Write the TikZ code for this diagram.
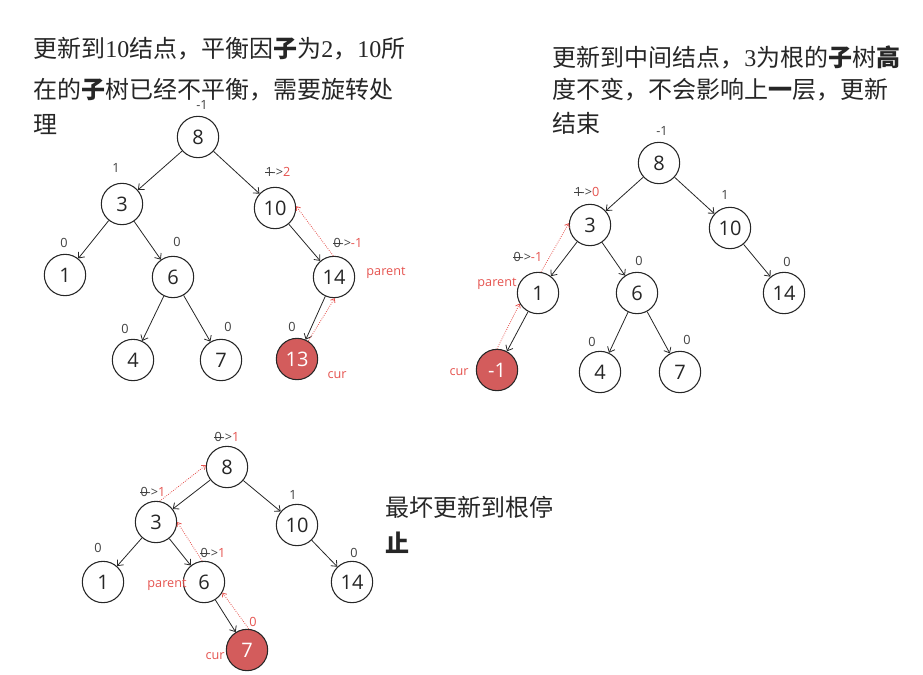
\documentclass[tikz,border=0pt]{standalone}
\usepackage{fontspec}
\setmainfont{Open Sans}
\newfontfamily\cjk{Noto Sans CJK SC}
\newfontfamily\numfont{Liberation Serif}
\usetikzlibrary{arrows.meta}
\definecolor{curRed}{HTML}{D35C5C}
\definecolor{markRed}{HTML}{E5534F}
\newcommand{\strk}[1]{\makebox[0pt][l]{\hspace{-0.05em}\rule[0.32em]{0.65em}{0.4pt}}#1\kern-0.1em}
\newcommand{\nw}[1]{{\color{markRed}#1}}

\begin{document}
\begin{tikzpicture}[x=0.75pt,y=-0.75pt,
    treeNode/.style={circle, draw=black!85, line width=0.8pt, minimum size=31pt, inner sep=0pt, font=\fontsize{15}{15}\selectfont, text=black!85},
    curNode/.style={treeNode, fill=curRed, text=white},
    bfLabel/.style={font=\fontsize{9.5}{10}\selectfont, text=black!75, inner sep=1pt},
    ptrLabel/.style={font=\fontsize{9.5}{10}\selectfont, text=markRed, inner sep=1pt},
    noteLine/.style={anchor=west, inner sep=0pt, font=\fontsize{18}{20}\selectfont\cjk, text=black!85},
    childEdge/.style={-{Straight Barb[length=3.5pt,width=6pt]}, line width=0.6pt, draw=black!85},
    backEdge/.style={-{Straight Barb[length=2.5pt,width=4pt]}, densely dotted, line width=0.6pt, draw=markRed}
]
    \useasboundingbox (0,0) rectangle (923,674);

    % first step: 10 out of balance
    \node[noteLine] (noteA1) at (33,49) {更新到{\numfont 10}结点，平衡因\textbf{子}为{\numfont 2}，{\numfont 10}所};
    \node[noteLine] (noteA2) at (33,90) {在的\textbf{子}树已经不平衡，需要旋转处};
    \node[noteLine] (noteA3) at (33,125) {理};

    \node[treeNode] (a8) at (198,137) {8};
    \node[treeNode] (a3) at (122,204) {3};
    \node[treeNode] (a10) at (275,208) {10};
    \node[treeNode] (a1) at (65,275) {1};
    \node[treeNode] (a6) at (173,277) {6};
    \node[treeNode] (a14) at (334,277) {14};
    \node[treeNode] (a4) at (133,360) {4};
    \node[treeNode] (a7) at (221,360) {7};
    \node[curNode] (a13) at (297,359) {13};

    \draw[childEdge] (a8) -- (a3);
    \draw[childEdge] (a8) -- (a10);
    \draw[childEdge] (a3) -- (a1);
    \draw[childEdge] (a3) -- (a6);
    \draw[childEdge] (a6) -- (a4);
    \draw[childEdge] (a6) -- (a7);
    \draw[childEdge] (a10) -- (a14);
    \draw[childEdge] (a14) -- (a13);
    \draw[backEdge] (a13.58) -- (a14.-88);
    \draw[backEdge] (a14.92) -- (a10.5);

    \node[bfLabel] (a8bf) at (202,105) {-1};
    \node[bfLabel] (a3bf) at (116,168) {1};
    \node[bfLabel] (a10bf) at (278,172) {\strk{1}->\nw{2}};
    \node[bfLabel] (a1bf) at (64,243) {0};
    \node[bfLabel] (a6bf) at (177,242) {0};
    \node[bfLabel] (a14bf) at (348,243) {\strk{0}->\nw{-1}};
    \node[bfLabel] (a4bf) at (125,329) {0};
    \node[bfLabel] (a7bf) at (228,327) {0};
    \node[bfLabel] (a13bf) at (292,327) {0};
    \node[ptrLabel] (aParent) at (386,273) {parent};
    \node[ptrLabel] (aCur) at (337,375) {cur};

    % second step: stops at 3
    \node[noteLine] (noteB1) at (552,57) {更新到中间结点，{\numfont 3}为根的\textbf{子}树\textbf{高}};
    \node[noteLine] (noteB2) at (552,90) {度不变，不会影响上\textbf{一}层，更新};
    \node[noteLine] (noteB3) at (552,123) {结束};

    \node[treeNode] (b8) at (659,163) {8};
    \node[treeNode] (b3) at (590,225) {3};
    \node[treeNode] (b10) at (730,228) {10};
    \node[treeNode] (b1) at (538,293) {1};
    \node[treeNode] (b6) at (637,293) {6};
    \node[treeNode] (b14) at (784,293) {14};
    \node[curNode] (bm1) at (497,370) {-1};
    \node[treeNode] (b4) at (600,372) {4};
    \node[treeNode] (b7) at (680,372) {7};

    \draw[childEdge] (b8) -- (b3);
    \draw[childEdge] (b8) -- (b10);
    \draw[childEdge] (b3) -- (b1);
    \draw[childEdge] (b3) -- (b6);
    \draw[childEdge] (b10) -- (b14);
    \draw[childEdge] (b1) -- (bm1);
    \draw[childEdge] (b6) -- (b4);
    \draw[childEdge] (b6) -- (b7);
    \draw[backEdge] (bm1.90) -- (b1.-150);
    \draw[backEdge] (b1.82) -- (b3.175);

    \node[bfLabel] (b8bf) at (662,131) {-1};
    \node[bfLabel] (b3bf) at (587,192) {\strk{1}->\nw{0}};
    \node[bfLabel] (b10bf) at (725,195) {1};
    \node[bfLabel] (b1bf) at (528,257) {\strk{0}->\nw{-1}};
    \node[bfLabel] (b6bf) at (639,261) {0};
    \node[bfLabel] (b14bf) at (787,262) {0};
    \node[bfLabel] (b4bf) at (592,342) {0};
    \node[bfLabel] (b7bf) at (687,340) {0};
    \node[ptrLabel] (bParent) at (497,284) {parent};
    \node[ptrLabel] (bCur) at (459,372) {cur};

    % worst case: up to the root
    \node[noteLine] (noteC1) at (385,507) {最坏更新到根停};
    \node[noteLine] (noteC2) at (385,543) {\textbf{止}};

    \node[treeNode] (c8) at (227,467) {8};
    \node[treeNode] (c3) at (156,522) {3};
    \node[treeNode] (c10) at (297,525) {10};
    \node[treeNode] (c1) at (103,582) {1};
    \node[treeNode] (c6) at (204,582) {6};
    \node[treeNode] (c14) at (352,582) {14};
    \node[curNode] (c7) at (247,650) {7};

    \draw[childEdge] (c8) -- (c3);
    \draw[childEdge] (c8) -- (c10);
    \draw[childEdge] (c3) -- (c1);
    \draw[childEdge] (c3) -- (c6);
    \draw[childEdge] (c10) -- (c14);
    \draw[childEdge] (c6) -- (c7);
    \draw[backEdge] (c7.85) -- (c6.-30);
    \draw[backEdge] (c6.95) -- (c3.0);
    \draw[backEdge] (c3.80) -- (c8.175);

    \node[bfLabel] (c8bf) at (227,437) {\strk{0}->\nw{1}};
    \node[bfLabel] (c3bf) at (153,492) {\strk{0}->\nw{1}};
    \node[bfLabel] (c10bf) at (293,495) {1};
    \node[bfLabel] (c1bf) at (98,548) {0};
    \node[bfLabel] (c6bf) at (213,553) {\strk{0}->\nw{1}};
    \node[bfLabel] (c14bf) at (354,553) {0};
    \node[ptrLabel] (c7bf) at (253,622) {0};
    \node[ptrLabel] (cParent) at (167,585) {parent};
    \node[ptrLabel] (cCur) at (215,656) {cur};
\end{tikzpicture}
\end{document}
